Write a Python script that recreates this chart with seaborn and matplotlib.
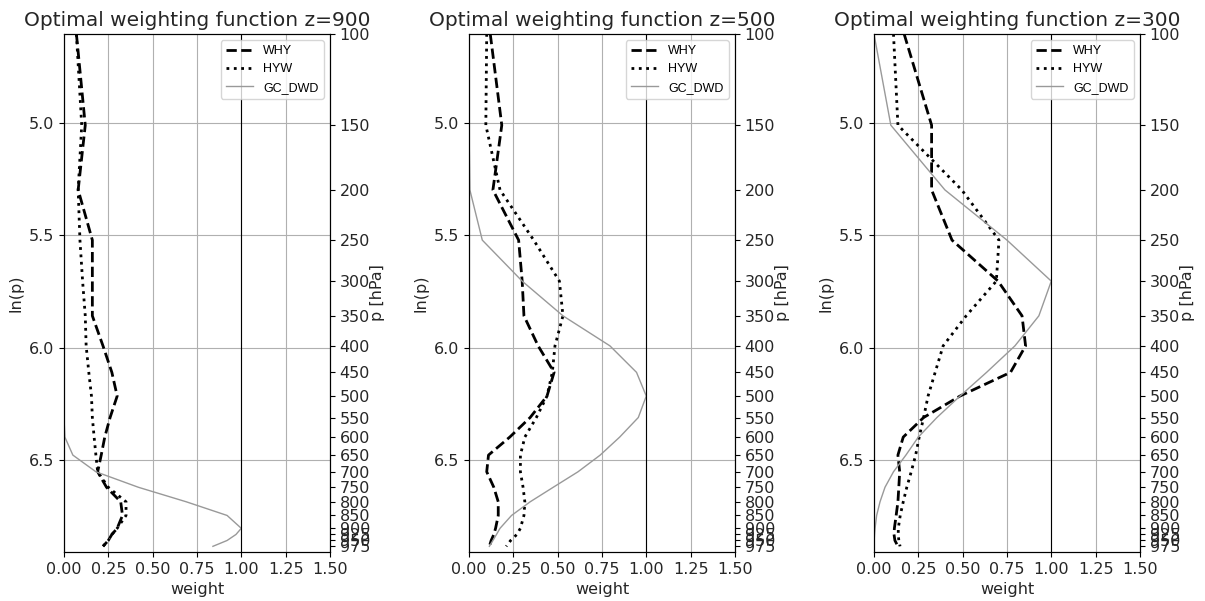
import numpy as np
import matplotlib
matplotlib.use("Agg")
import matplotlib.pyplot as plt
import seaborn as sns

# pressure levels [hPa]
levels = [100, 150, 200, 250, 300, 350, 400, 450, 500, 550,
          600, 650, 700, 750, 800, 850, 900, 925, 950, 975]

# optimal weights for target level z=900
why_900 = [0.07, 0.12, 0.08, 0.16, 0.16, 0.16, 0.22, 0.27, 0.30, 0.26,
           0.23, 0.21, 0.19, 0.24, 0.32, 0.33, 0.30, 0.27, 0.25, 0.22]
hyw_900 = [0.07, 0.10, 0.08, 0.09, 0.105, 0.12, 0.125, 0.14, 0.155, 0.16,
           0.17, 0.18, 0.19, 0.25, 0.35, 0.35, 0.30, 0.27, 0.25, 0.22]
gc_900 = [0.0, 0.0, 0.0, 0.0, 0.0, 0.0, 0.0, 0.0, 0.0, 0.0,
          0.005, 0.05, 0.18, 0.42, 0.69, 0.92, 1.0, 0.97, 0.92, 0.84]

# optimal weights for target level z=500
why_500 = [0.12, 0.185, 0.135, 0.28, 0.30, 0.31, 0.39, 0.48, 0.44, 0.345,
           0.23, 0.11, 0.10, 0.14, 0.165, 0.165, 0.15, 0.14, 0.125, 0.115]
hyw_500 = [0.10, 0.095, 0.175, 0.365, 0.51, 0.53, 0.485, 0.47, 0.44, 0.38,
           0.315, 0.29, 0.29, 0.305, 0.315, 0.31, 0.29, 0.27, 0.235, 0.21]
gc_500 = [0.0, 0.0, 0.005, 0.075, 0.30, 0.53, 0.795, 0.945, 1.0, 0.955,
          0.85, 0.74, 0.615, 0.475, 0.345, 0.24, 0.175, 0.155, 0.135, 0.115]

# optimal weights for target level z=300
why_300 = [0.17, 0.325, 0.325, 0.44, 0.70, 0.835, 0.855, 0.77, 0.485, 0.28,
           0.165, 0.135, 0.145, 0.14, 0.135, 0.125, 0.115, 0.113, 0.118, 0.135]
hyw_300 = [0.11, 0.135, 0.495, 0.705, 0.69, 0.52, 0.39, 0.345, 0.305, 0.28,
           0.255, 0.235, 0.21, 0.185, 0.165, 0.148, 0.137, 0.137, 0.14, 0.147]
gc_300 = [0.0, 0.095, 0.40, 0.75, 1.0, 0.93, 0.795, 0.635, 0.485, 0.355,
          0.25, 0.18, 0.11, 0.062, 0.034, 0.015, 0.006, 0.003, 0.001, 0.0]

targets = [900, 500, 300]
panels = [(why_900, hyw_900, gc_900),
          (why_500, hyw_500, gc_500),
          (why_300, hyw_300, gc_300)]

lnp = np.log(levels)
text_color = "#262626"

fig = plt.figure(figsize=(12.05, 6.01), dpi=100)
lefts = [0.0531, 0.3892, 0.7253]
width, bottom, height = 0.2207, 0.0815, 0.8620

for left, z, (why, hyw, gc) in zip(lefts, targets, panels):
    ax = fig.add_axes([left, bottom, width, height])
    sns.lineplot(x=why, y=lnp, orient="y", ax=ax, color="black",
                 linestyle="--", linewidth=2, label="WHY")
    sns.lineplot(x=hyw, y=lnp, orient="y", ax=ax, color="black",
                 linestyle=":", linewidth=2, label="HYW")
    sns.lineplot(x=gc, y=lnp, orient="y", ax=ax, color="#999999",
                 linestyle="-", linewidth=1, label="GC_DWD")
    ax.axvline(1.0, color="black", linewidth=0.8)
    ax.set_xlim(0, 1.5)
    ax.set_ylim(np.log(1000), np.log(100))
    ax.set_xticks(np.arange(0, 1.51, 0.25))
    ax.set_yticks([5.0, 5.5, 6.0, 6.5])
    ax.grid(True, color="#b0b0b0", linewidth=0.8)
    ax.tick_params(labelsize=11.5, labelcolor=text_color)
    ax.set_xlabel("weight", fontsize=11.5, color=text_color)
    ax.set_ylabel("ln(p)", fontsize=11.5, color=text_color)
    ax.set_title(f"Optimal weighting function z={z}", fontsize=14.5,
                 color=text_color)
    ax.legend(loc="upper right", prop={"family": "Liberation Sans", "size": 9},
              handlelength=2.2)

    ax2 = ax.twinx()
    ax2.set_ylim(np.log(1000), np.log(100))
    ax2.set_yticks(lnp)
    ax2.set_yticklabels([str(p) for p in levels])
    ax2.tick_params(labelsize=11.5, labelcolor=text_color)
    ax2.set_ylabel("p [hPa]", fontsize=11.5, labelpad=0, color=text_color)

fig.savefig("out.png", dpi=100)
